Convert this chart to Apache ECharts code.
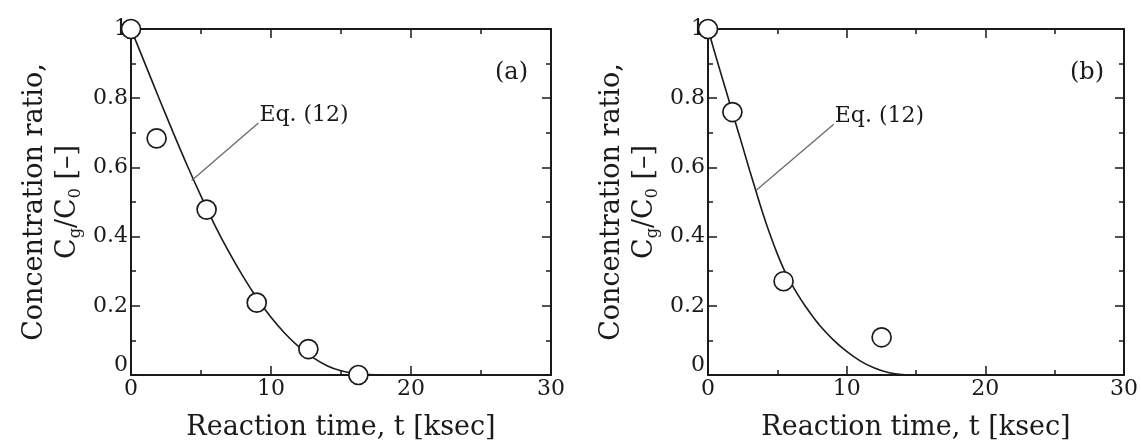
<!DOCTYPE html>
<html>
<head>
<meta charset="utf-8">
<style>
  * { margin: 0; padding: 0; }
  #container { width: 1141px; height: 446px; background: #fff; }
</style>
</head>
<body>
<div id="container"></div>
<script src="https://cdn.jsdelivr.net/npm/echarts@6/dist/echarts.min.js"></script>
<script>
// measured points, panel (a) and (b)  [t ksec, Cg/C0]
var pointsA = [[0, 1.0], [1.83, 0.684], [5.4, 0.478], [8.98, 0.209], [12.67, 0.075], [16.24, 0.0]];
var pointsB = [[0, 1.0], [1.76, 0.76], [5.45, 0.271], [12.52, 0.109]];

// Eq. (12) curves
var curveA = [[0, 1], [1, 0.9], [2, 0.8], [3, 0.702], [4, 0.607], [5, 0.517], [6, 0.432], [7, 0.355],
  [8, 0.285], [9, 0.222], [10, 0.167], [11, 0.12], [12, 0.081], [13, 0.05], [14, 0.027],
  [15, 0.012], [16, 0.004], [17, 0.001], [18, 0]];
var curveB = [[0, 1], [0.5, 0.93], [1, 0.862], [1.5, 0.795], [2, 0.727], [2.5, 0.66], [3, 0.592],
  [3.5, 0.526], [4, 0.462], [4.5, 0.403], [5, 0.35], [5.5, 0.303], [6, 0.265], [6.5, 0.231],
  [7, 0.2], [7.5, 0.172], [8, 0.146], [9, 0.103], [10, 0.068], [11, 0.04], [12, 0.02],
  [13, 0.007], [14, 0.001], [14.5, 0]];

// leader lines for the "Eq. (12)" note
var leaderA = [[4.33, 0.562], [9.1, 0.728]];
var leaderB = [[3.48, 0.534], [9.07, 0.725]];
var eqText = 'Eq. (12)';
var panelTags = ['(a)', '(b)'];

var xTicks = { min: 0, max: 30, interval: 10 };
var yTicks = { min: 0, max: 1, interval: 0.2 };

var FONT = 'DejaVu Serif';
var INK = '#1a1a1a';

var dom = document.getElementById('container');
var myChart = echarts.init(dom);

function tickLabel(v) {
  if (v === 0) return '{z|0}';
  return String(+v.toFixed(1));
}

function xAxisFor(grid, pos, named) {
  return {
    type: 'value', gridIndex: grid, position: pos,
    min: xTicks.min, max: xTicks.max, interval: xTicks.interval,
    name: named ? 'Reaction time, t [ksec]' : '',
    nameLocation: 'middle', nameGap: 39,
    nameTextStyle: { fontFamily: FONT, fontSize: 27, color: INK },
    axisLine: { onZero: false, lineStyle: { color: INK, width: 2 } },
    axisTick: { inside: true, length: 9, lineStyle: { color: INK, width: 1.5 } },
    minorTick: { show: true, splitNumber: 2, length: 5, lineStyle: { color: INK, width: 1.5 } },
    axisLabel: { show: named, fontFamily: FONT, fontSize: 22, color: INK, margin: 3 },
    splitLine: { show: false }
  };
}

function yAxisFor(grid, pos, named, gap) {
  return {
    type: 'value', gridIndex: grid, position: pos,
    min: yTicks.min, max: yTicks.max, interval: yTicks.interval,
    name: named ? 'Concentration ratio,\n{i|C}{s|g}{i|/C}{s|0}{i| [–]}' : '',
    nameLocation: 'middle', nameGap: gap, nameRotate: 90,
    nameTextStyle: {
      fontFamily: FONT, fontSize: 27, color: INK, lineHeight: 33,
      rich: {
        i: { fontFamily: FONT, fontSize: 27, color: INK, lineHeight: 33 },
        s: { fontFamily: FONT, fontSize: 16, color: INK, lineHeight: 17, verticalAlign: 'bottom' }
      }
    },
    axisLine: { onZero: false, lineStyle: { color: INK, width: 2 } },
    axisTick: { inside: true, length: 9, lineStyle: { color: INK, width: 1.5 } },
    minorTick: { show: true, splitNumber: 2, length: 5, lineStyle: { color: INK, width: 1.5 } },
    axisLabel: {
      show: named, fontFamily: FONT, fontSize: 22, color: INK, margin: 3,
      formatter: tickLabel,
      rich: { z: { fontFamily: FONT, fontSize: 22, color: INK, padding: [0, 0, 20, 0] } }
    },
    splitLine: { show: false }
  };
}

function panelSeries(idx, curve, points, leader) {
  return [
    {
      type: 'line', xAxisIndex: idx * 2, yAxisIndex: idx * 2,
      data: curve, smooth: 0.3, showSymbol: false, clip: false,
      lineStyle: { color: INK, width: 1.6 }, silent: true, z: 2
    },
    {
      type: 'line', xAxisIndex: idx * 2, yAxisIndex: idx * 2,
      data: leader, showSymbol: false, clip: false,
      lineStyle: { color: '#6a6a6a', width: 1.3 }, silent: true, z: 2
    },
    {
      type: 'scatter', xAxisIndex: idx * 2, yAxisIndex: idx * 2,
      data: [leader[1]], symbolSize: 0, clip: false, silent: true,
      itemStyle: { color: INK, opacity: 1 },
      label: {
        show: true, position: 'right', distance: 1, offset: [0, -8],
        formatter: eqText, fontFamily: FONT, fontSize: 22, color: INK
      }
    },
    {
      type: 'scatter', xAxisIndex: idx * 2, yAxisIndex: idx * 2,
      data: points, symbol: 'circle', symbolSize: 19, clip: false, z: 5,
      itemStyle: { color: '#fff', borderColor: INK, borderWidth: 1.7, opacity: 1 }
    }
  ];
}

var option = {
  backgroundColor: '#fff',
  animation: false,
  title: [
    { text: panelTags[0], left: 490, top: 56, textStyle: { fontFamily: FONT, fontSize: 24, fontWeight: 'normal', color: INK } },
    { text: panelTags[1], left: 1065, top: 56, textStyle: { fontFamily: FONT, fontSize: 24, fontWeight: 'normal', color: INK } }
  ],
  grid: [
    { left: 131, top: 29, width: 420, height: 349 },
    { left: 708, top: 29, width: 420, height: 349 }
  ],
  xAxis: [
    xAxisFor(0, 'bottom', true), xAxisFor(0, 'top', false),
    xAxisFor(1, 'bottom', true), xAxisFor(1, 'top', false)
  ],
  yAxis: [
    yAxisFor(0, 'left', true, 47), yAxisFor(0, 'right', false, 0),
    yAxisFor(1, 'left', true, 47), yAxisFor(1, 'right', false, 0)
  ],
  series: panelSeries(0, curveA, pointsA, leaderA)
    .concat(panelSeries(1, curveB, pointsB, leaderB))
};

myChart.setOption(option);
</script>
</body>
</html>
